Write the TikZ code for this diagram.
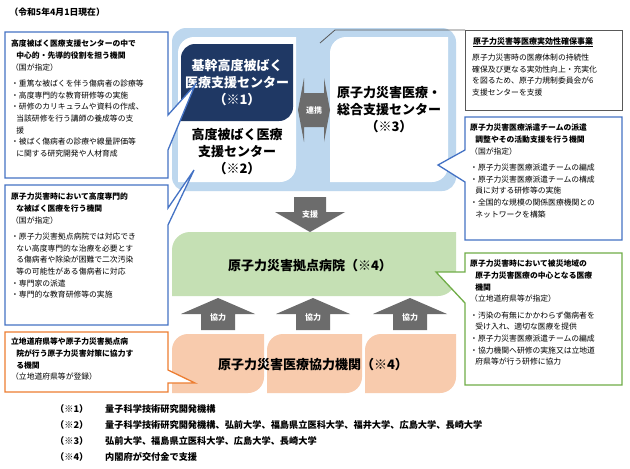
\documentclass[tikz,border=0pt]{standalone}
\usepackage{fontspec}
\setmainfont{Noto Sans CJK JP}
\begin{document}
\begin{tikzpicture}[x=1pt,y=-1pt,
  small/.style={font=\fontsize{7.8}{11.6}\selectfont,align=left,anchor=north west,inner sep=0pt,text width=155pt},
  big/.style={font=\fontsize{13}{17}\selectfont\bfseries,align=center},
  arr/.style={fill=gray!85!black,draw=none},
  alab/.style={font=\fontsize{8}{9}\selectfont\bfseries,text=white},
  foot/.style={font=\fontsize{9.2}{10}\selectfont\bfseries,anchor=west,inner sep=0pt}]
\definecolor{navy}{HTML}{1F3864}
\definecolor{lblue}{HTML}{BDD7EE}
\definecolor{bline}{HTML}{4472C4}
\definecolor{oline}{HTML}{ED7D31}
\definecolor{gline}{HTML}{70AD47}
\definecolor{gfill}{HTML}{C5E0B4}
\definecolor{ofill}{HTML}{F8CBAD}
\newcommand\leafshape[6]{\path[#6] (#1,#4) [rounded corners=#5] -- (#1,#2) [sharp corners] -- (#3,#2) [rounded corners=#5] -- (#3,#4) [sharp corners] -- cycle;}
\fill[white] (0,0) rectangle (630,469);
\useasboundingbox (0,0) rectangle (630,469);
\node[anchor=west,font=\fontsize{8.8}{10}\selectfont\bfseries] (date) at (6,12) {（令和5年4月1日現在）};
% central frame
\fill[lblue,rounded corners=14] (172,28) rectangle (456,191);
\leafshape{178}{37}{296}{182}{16}{fill=white}
\leafshape{181}{44}{293}{121}{14}{fill=navy}
\leafshape{330}{37}{448}{182}{16}{fill=white}
\node[big,text=white] (kikan) at (237,83) {基幹高度被ばく\\医療支援センター\\（※1）};
\node[big] (kodo) at (237,152) {高度被ばく医療\\支援センター\\（※2）};
\node[big] (sogo) at (389,110) {原子力災害医療・\\総合支援センター\\（※3）};
% renkei double arrow
\fill[gray!85!black] (298,110) -- (304,78) -- (304,93) -- (324,93) -- (324,78) -- (330,110) -- (324,142) -- (324,127) -- (304,127) -- (304,142) -- cycle;
\node[alab] (renkei) at (314,110) {連携};
% shien arrow
\fill[arr] (294,197) -- (326,197) -- (326,212) -- (345,212) -- (310,232) -- (275,212) -- (294,212) -- cycle;
\node[alab] (shien) at (310,214) {支援};
% green
\leafshape{172}{232}{456}{296}{18}{fill=gfill}
\node[big] (kyoten) at (310,266) {原子力災害拠点病院（※4）};
% kyoryoku arrows
\foreach \c/\n in {218/a,313/b,410/c}{
  \fill[arr] (\c-17,330) -- (\c-17,314) -- (\c-37,314) -- (\c,298) -- (\c+37,314) -- (\c+17,314) -- (\c+17,330) -- cycle;
  \node[alab] (k\n) at (\c,317) {協力};}
\leafshape{172}{334}{264}{393}{16}{fill=ofill}
\leafshape{267}{334}{362}{393}{16}{fill=ofill}
\leafshape{365}{334}{456}{393}{16}{fill=ofill}
\node[big] (kyoryoku) at (313,365) {原子力災害医療協力機関（※4）};
% left callouts
\draw[bline,line width=1.3pt,fill=white] (5,32) -- (168,32) -- (168,115) -- (195,85) -- (168,150) -- (168,178) -- (5,178) -- cycle;
\node[small] (l1) at (11,40) {{\bfseries 高度被ばく医療支援センターの中で\\\ \ 中心的・先導的役割を担う機関}\\（国が指定）\\[5pt]・重篤な被ばくを伴う傷病者の診療等\\・高度専門的な教育研修等の実施\\・研修のカリキュラムや資料の作成、\\\ \ 当該研修を行う講師の養成等の支\\\ \ 援\\・被ばく傷病者の診療や線量評価等\\\ \ に関する研究開発や人材育成};
\draw[bline,line width=1.3pt,fill=white] (5,185) -- (168,185) -- (168,208) -- (194,170) -- (168,225) -- (168,325) -- (5,325) -- cycle;
\node[small] (l2) at (11,193) {{\bfseries 原子力災害時において高度専門的\\\ \ な被ばく医療を行う機関}\\（国が指定）\\[5pt]・原子力災害拠点病院では対応でき\\\ \ ない高度専門的な治療を必要とす\\\ \ る傷病者や除染が困難で二次汚染\\\ \ 等の可能性がある傷病者に対応\\・専門家の派遣\\・専門的な教育研修等の実施};
\draw[oline,line width=1.3pt,fill=white] (5,332) -- (168,332) -- (168,370) -- (195,383) -- (168,383) -- (168,392) -- (5,392) -- cycle;
\node[small] (l3) at (11,338) {{\bfseries 立地道府県等や原子力災害拠点病\\\ \ 院が行う原子力災害対策に協力す\\\ \ る機関}\\（立地道府県等が登録）};
% right callouts
\draw[gray!70!black,line width=0.8pt,fill=white] (465,30) rectangle (622,110);
\draw[gray!70!black,line width=0.8pt] (465,30) -- (335,30) -- (320,43);
\node[font=\fontsize{8}{9}\selectfont\bfseries,anchor=north west,inner sep=0pt] (r0t) at (473,37) {\underline{原子力災害等医療実効性確保事業}};
\node[small] (r0) at (472,54) {原子力災害時の医療体制の持続性\\確保及び更なる実効性向上・充実化\\を図るため、原子力規制委員会が6\\支援センターを支援};
\draw[bline,line width=1.3pt,fill=white] (465,117) -- (622,117) -- (622,240) -- (465,240) -- (465,182) -- (438,165) -- (465,150) -- cycle;
\node[small] (r1) at (470,124) {{\bfseries 原子力災害医療派遣チームの派遣\\\ \ 調整やその活動支援を行う機関}\\（国が指定）\\[5pt]・原子力災害医療派遣チームの編成\\・原子力災害医療派遣チームの構成\\\ \ 員に対する研修等の実施\\・全国的な規模の関係医療機関との\\\ \ ネットワークを構築};
\draw[gline,line width=1.3pt,fill=white] (465,253) -- (622,253) -- (622,385) -- (465,385) -- (465,303) -- (436,272) -- (465,272) -- cycle;
\node[small] (r2) at (470,260) {{\bfseries 原子力災害時において被災地域の\\\ \ 原子力災害医療の中心となる医療\\\ \ 機関}\\（立地道府県等が指定）\\[5pt]・汚染の有無にかかわらず傷病者を\\\ \ 受け入れ、適切な医療を提供\\・原子力災害医療派遣チームの編成\\・協力機関へ研修の実施又は立地道\\\ \ 府県等が行う研修に協力};
% footnotes
\foreach \y/\a/\b in {409/（※1）/量子科学技術研究開発機構,
  425/（※2）/量子科学技術研究開発機構、弘前大学、福島県立医科大学、福井大学、広島大学、長崎大学,
  441/（※3）/弘前大学、福島県立医科大学、広島大学、長崎大学,
  457/（※4）/内閣府が交付金で支援}{
  \node[foot] at (55,\y) {\a};
  \node[foot] at (105,\y) {\b};}
\end{tikzpicture}
\end{document}
